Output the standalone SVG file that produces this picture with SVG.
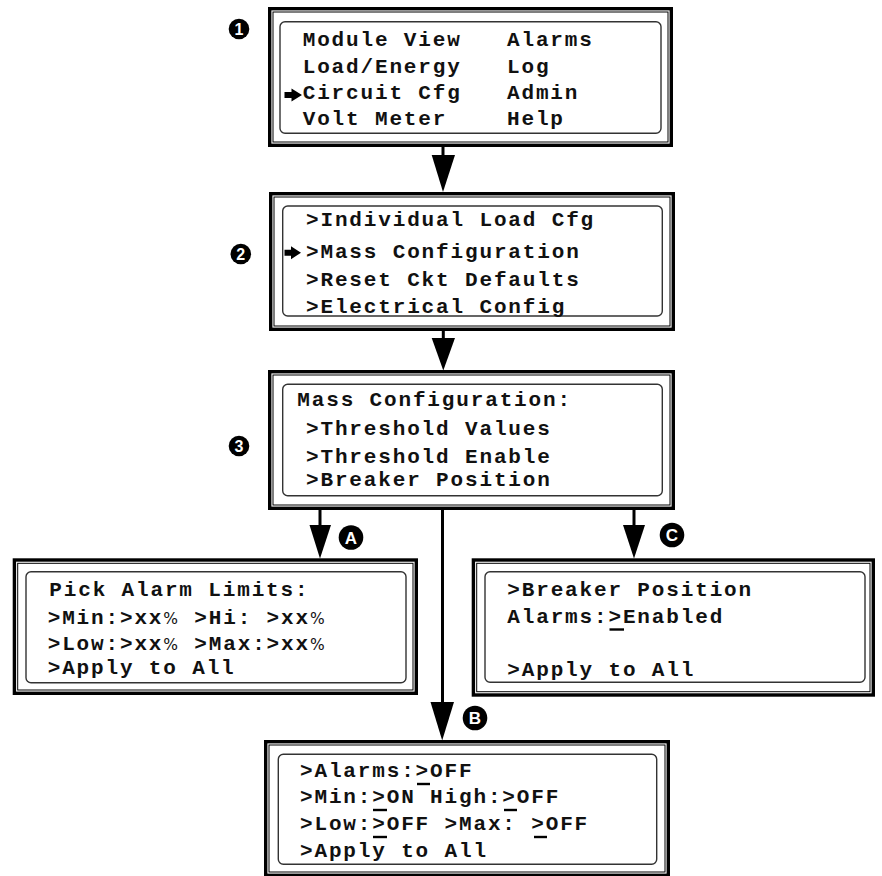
<svg xmlns="http://www.w3.org/2000/svg" width="882" height="876" viewBox="0 0 882 876">
<style>
.outer{fill:none;stroke:#000;stroke-width:3.4}
.thin{fill:none;stroke:#000;stroke-width:1}
.screen{fill:none;stroke:#333;stroke-width:1.4}
.t{font-family:"Liberation Mono","Courier New",monospace;font-weight:bold;font-size:21px;letter-spacing:1.85px;fill:#111}
.pct{font-weight:normal;font-family:"DejaVu Sans","Liberation Sans",sans-serif;font-size:15.5px}
.badge{fill:#000}
.bt{font-family:"Liberation Sans",Arial,sans-serif;font-weight:bold;fill:#fff;text-anchor:middle}
.ul{stroke:#000;stroke-width:2.4}
.shaft{stroke:#000;stroke-width:3;fill:none}
.head{fill:#000}
.mark{fill:#000}
</style>
<rect width="882" height="876" fill="#fff"/>

<g id="node1">
<rect class="outer" x="269.7" y="8.7" width="401.6" height="136.6"/>
<rect class="thin" x="273" y="12" width="395" height="130"/>
<rect class="screen" x="280" y="21.7" width="381" height="111.6" rx="5"/>
<text class="t" x="302.7" y="45.5">Module View</text>
<text class="t" x="507" y="45.5">Alarms</text>
<text class="t" x="302.7" y="72.5">Load/Energy</text>
<text class="t" x="507" y="72.5">Log</text>
<text class="t" x="302.7" y="99">Circuit Cfg</text>
<text class="t" x="507" y="99">Admin</text>
<text class="t" x="302.7" y="125">Volt Meter</text>
<text class="t" x="507" y="125">Help</text>
<polygon class="mark" points="284.5,92 291.5,92 291.5,88.5 302,95 291.5,101.5 291.5,98 284.5,98"/>
<circle class="badge" cx="239" cy="29" r="10.3"/>
<text class="bt" x="239" y="34.8" font-size="16">1</text>
</g>

<g id="node2">
<rect class="outer" x="270.7" y="193.7" width="402.6" height="135.6"/>
<rect class="thin" x="274" y="197" width="396" height="129"/>
<rect class="screen" x="282.7" y="206" width="379.6" height="110" rx="5"/>
<text class="t" x="306" y="225.7">&gt;Individual Load Cfg</text>
<text class="t" x="306" y="258.3">&gt;Mass Configuration</text>
<text class="t" x="306" y="286">&gt;Reset Ckt Defaults</text>
<text class="t" x="306" y="312.7">&gt;Electrical Config</text>
<polygon class="mark" points="284.5,249.7 291,249.7 291,246.2 301,252.7 291,259.2 291,255.7 284.5,255.7"/>
<circle class="badge" cx="240.8" cy="254" r="10.3"/>
<text class="bt" x="240.8" y="259.8" font-size="16">2</text>
</g>

<g id="node3">
<rect class="outer" x="269.7" y="371.7" width="403.6" height="136.6"/>
<rect class="thin" x="273" y="375" width="397" height="130"/>
<rect class="screen" x="282.7" y="384.3" width="379.6" height="111.4" rx="5"/>
<text class="t" x="297.3" y="406">Mass Configuration:</text>
<text class="t" x="306" y="435">&gt;Threshold Values</text>
<text class="t" x="306" y="463.3">&gt;Threshold Enable</text>
<text class="t" x="306" y="485.7">&gt;Breaker Position</text>
<circle class="badge" cx="239" cy="446" r="10.3"/>
<text class="bt" x="239" y="451.8" font-size="16">3</text>
</g>

<g id="nodeA">
<rect class="outer" x="14.4" y="560" width="401.9" height="133.3"/>
<rect class="thin" x="17.7" y="563.3" width="395.3" height="126.7"/>
<rect class="screen" x="26" y="571.7" width="380" height="111" rx="5"/>
<text class="t" x="49.3" y="595.7">Pick Alarm Limits:</text>
<text class="t" x="47.7" y="624">&gt;Min:&gt;xx<tspan class="pct">%</tspan> &gt;Hi: &gt;xx<tspan class="pct">%</tspan></text>
<text class="t" x="47.7" y="650">&gt;Low:&gt;xx<tspan class="pct">%</tspan> &gt;Max:&gt;xx<tspan class="pct">%</tspan></text>
<text class="t" x="47.7" y="674">&gt;Apply to All</text>
<circle class="badge" cx="351" cy="537.5" r="12.3"/>
<text class="bt" x="351" y="543.6" font-size="17">A</text>
</g>

<g id="nodeC">
<rect class="outer" x="473.4" y="560" width="399.9" height="135"/>
<rect class="thin" x="476.7" y="563.3" width="393.3" height="128.4"/>
<rect class="screen" x="485" y="571.7" width="380" height="110.6" rx="5"/>
<text class="t" x="507.3" y="596">&gt;Breaker Position</text>
<text class="t" x="507.3" y="623.3">Alarms:&gt;Enabled</text>
<line class="ul" x1="609.5" y1="629.5" x2="624" y2="629.5"/>
<text class="t" x="507.3" y="676">&gt;Apply to All</text>
<circle class="badge" cx="672" cy="535" r="12.3"/>
<text class="bt" x="672" y="541.1" font-size="17">C</text>
</g>

<g id="nodeB">
<rect class="outer" x="265.7" y="741.7" width="402.6" height="133.6"/>
<rect class="thin" x="269" y="745" width="396" height="127"/>
<rect class="screen" x="278.3" y="754.3" width="378.4" height="110" rx="5"/>
<text class="t" x="300" y="777.3">&gt;Alarms:&gt;OFF</text>
<text class="t" x="300" y="803.3">&gt;Min:&gt;ON High:&gt;OFF</text>
<text class="t" x="300" y="830">&gt;Low:&gt;OFF &gt;Max: &gt;OFF</text>
<text class="t" x="300" y="856.7">&gt;Apply to All</text>
<line class="ul" x1="417" y1="784" x2="430" y2="784"/>
<line class="ul" x1="373" y1="810" x2="387" y2="810"/>
<line class="ul" x1="504" y1="810" x2="517" y2="810"/>
<line class="ul" x1="373" y1="837" x2="387" y2="837"/>
<line class="ul" x1="534" y1="837" x2="547" y2="837"/>
<circle class="badge" cx="475" cy="718" r="12.3"/>
<text class="bt" x="475" y="724.1" font-size="17">B</text>
</g>

<g id="connectors">
<line class="shaft" x1="443" y1="146" x2="443" y2="157"/>
<polygon class="head" points="431.7,155 455,155 443,192"/>
<line class="shaft" x1="443.3" y1="330" x2="443.3" y2="340"/>
<polygon class="head" points="431.7,338 455,338 443.3,370.5"/>
<line class="shaft" x1="320" y1="510" x2="320" y2="527"/>
<polygon class="head" points="309.5,525 331,525 320,558.5"/>
<line class="shaft" x1="634" y1="510" x2="634" y2="527"/>
<polygon class="head" points="623,525 645,525 634,558.5"/>
<line class="shaft" x1="442.5" y1="510" x2="442.5" y2="704"/>
<polygon class="head" points="430.5,702 454,702 442.2,740.5"/>
</g>
</svg>
